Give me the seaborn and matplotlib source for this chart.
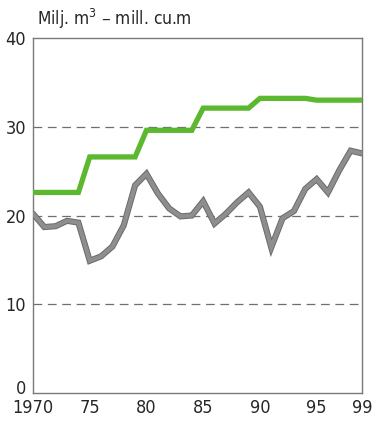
import matplotlib
matplotlib.use("Agg")
import matplotlib.pyplot as plt
import matplotlib.patheffects as pe
import matplotlib.transforms as mtransforms
import seaborn as sns
import pandas as pd

# --- Data --------------------------------------------------------------------
years = list(range(1970, 2000))
# Green series: stepped (increment)
green_vals = [22.6, 22.6, 22.6, 22.6, 22.6, 26.6, 26.6, 26.6, 26.6, 26.6,
              29.6, 29.6, 29.6, 29.6, 29.6, 32.1, 32.1, 32.1, 32.1, 32.1,
              33.2, 33.2, 33.2, 33.2, 33.2, 33.0, 33.0, 33.0, 33.0, 33.0]
# Grey series: annual values
grey_vals = [20.2, 18.7, 18.8, 19.4, 19.2, 14.9, 15.4, 16.5, 18.9, 23.4,
             24.7, 22.5, 20.8, 19.9, 20.0, 21.6, 19.1, 20.2, 21.5, 22.6,
             21.0, 16.4, 19.7, 20.5, 23.0, 24.1, 22.6, 25.1, 27.3, 27.0]
x_ticks = [1970, 1975, 1980, 1985, 1990, 1995, 1999]
x_tick_labels = ["1970", "75", "80", "85", "90", "95", "99"]
y_ticks = [0, 10, 20, 30, 40]

df = pd.DataFrame({"year": years, "green": green_vals, "grey": grey_vals})

# --- Plot --------------------------------------------------------------------
sns.set_style("white")
plt.rcParams["font.family"] = ["DejaVu Sans"]
plt.rcParams["font.stretch"] = "condensed"

fig = plt.figure(figsize=(3.73, 4.21), dpi=100)
ax = fig.add_axes([0.0885, 0.0665, 0.882, 0.8432])

for y in [10, 20, 30]:
    ax.axhline(y, color="#6f6f6f", linestyle=(0, (7, 4.5)), linewidth=0.9, zorder=1)

sns.lineplot(data=df, x="year", y="green", ax=ax, color="#5cb82e",
             linewidth=3.8, zorder=3, solid_joinstyle="miter")
sns.lineplot(data=df, x="year", y="grey", ax=ax, color="#8e8e8e",
             linewidth=3.0, zorder=3, solid_joinstyle="miter",
             path_effects=[pe.Stroke(linewidth=4.4, foreground="#6a6a6a"), pe.Normal()])

ax.set_xlim(1970, 1999)
ax.set_ylim(0, 40)
ax.set_xticks(x_ticks)
ax.set_xticklabels(x_tick_labels)
ax.set_yticks(y_ticks)
ax.set_xlabel("")
ax.set_ylabel("")

for s in ax.spines.values():
    s.set_color("#7a7a7a")
    s.set_linewidth(1.0)

ax.tick_params(axis="both", direction="out", length=4, width=0.9,
               color="#7a7a7a", labelsize=13)
ax.tick_params(axis="x", pad=0.5)
ax.tick_params(axis="y", pad=1)

# lift the "0" label a little so it clears "1970" (as in the original)
zero_lbl = ax.get_yticklabels()[0]
zero_lbl.set_transform(zero_lbl.get_transform() +
                       mtransforms.ScaledTranslation(0, 4 / 72, fig.dpi_scale_trans))

fig.text(0.099, 0.955, "Milj. m$^3$ – mill. cu.m", fontsize=12.5, ha="left", va="center")

plt.savefig("out.png", dpi=100)
plt.close()
